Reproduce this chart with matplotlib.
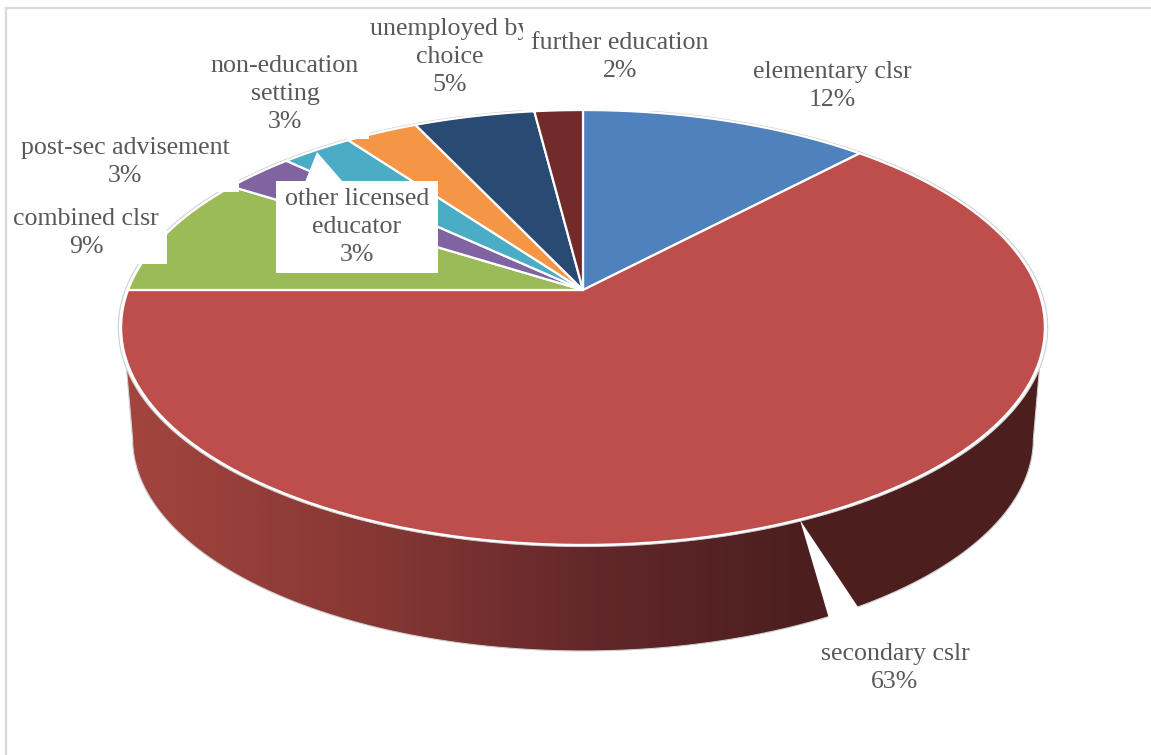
import numpy as np
import matplotlib
matplotlib.use("Agg")
import matplotlib.pyplot as plt
from matplotlib.patches import Polygon, Rectangle
from matplotlib.colors import LinearSegmentedColormap

categories = ["elementary clsr", "secondary cslr", "combined clsr", "post-sec advisement",
              "other licensed\neducator", "non-education\nsetting", "unemployed by\nchoice",
              "further education"]
values = [12, 63, 9, 3, 3, 3, 5, 2]
colors = ["#4F81BD", "#BE4E4B", "#9BBB59", "#8064A2", "#4BACC6", "#F59646", "#294A73", "#732A2A"]

# label centres in pixels, same order as categories
label_x = [832, 895, 86, 125, 357, 285, 450, 620]
label_y = [86, 668, 233, 162, 227, 94, 57, 57]
label_zorder = [9, 9, 9, 9, 9, 9, 5, 9]

# white boxes the labels sit on (left, top, right, bottom)
label_boxes = [(8, 205, 167.5, 264), (10, 130, 239, 192), (205, 50, 369, 139),
               (370, 15, 474, 116), (523, 15, 716, 111)]

# perspective disc
CX, CY = 583, 290
A, B, K = 455, 211, 0.1724
# lower edge of the wall
SCALE2, CY2 = 0.975, 402.4


def project(theta, scale=1.0, cy=CY):
    # theta is clockwise from 12 o'clock, in radians
    u = np.sin(theta)
    v = -np.cos(theta)
    w = 1 - K * v
    return CX + scale * A * u / w, cy + scale * B * v / w


fig = plt.figure(figsize=(11.51, 7.55), dpi=100)
ax = fig.add_axes([0, 0, 1, 1])
plt.rcParams["font.family"] = "Liberation Serif"

# chart area border
ax.plot([6, 6], [8, 755], color="#D9D9D9", lw=1.6, zorder=1)
ax.plot([6, 1151], [8, 8], color="#D9D9D9", lw=1.6, zorder=1)

# side wall, front half only
th_right = np.pi - np.arccos(0.3037)
th_low = np.pi - np.arccos(K)
top_t = np.linspace(th_right, 2 * np.pi - th_right, 300)
low_t = np.linspace(2 * np.pi - th_low, th_low, 300)
tx, ty = project(top_t)
lx, ly = project(low_t, SCALE2, CY2)
wall_pts = np.column_stack([np.r_[tx, lx], np.r_[ty, ly]])

wall_cmap = LinearSegmentedColormap.from_list(
    "wall", [(0, "#A4453F"), (0.4, "#843633"), (0.7, "#62272A"), (1, "#4C1F1E")])
grad = np.linspace(0, 1, 512).reshape(1, -1)
im = ax.imshow(grad, extent=[122, 800, 700, 300], cmap=wall_cmap, aspect="auto", zorder=2)
ax.imshow(np.ones((1, 2)), extent=[800, 1060, 700, 300], cmap=wall_cmap, vmin=0, vmax=1,
          aspect="auto", zorder=2).set_clip_path(Polygon(wall_pts, transform=ax.transData))
im.set_clip_path(Polygon(wall_pts, transform=ax.transData))
ax.add_patch(Polygon(wall_pts, closed=True, fc="none", ec="#CFCFCF", lw=0.8, zorder=2.5))

# gap in the wall
ax.add_patch(Polygon([(800, 520), (830, 622), (860, 610), (856, 604)], fc="white", ec="none", zorder=3))

# top face
rx, ry = project(np.linspace(0, 2 * np.pi, 500), 1.006)
ax.add_patch(Polygon(np.column_stack([rx, ry]), fc="white", ec="#CFCFCF", lw=0.8, zorder=3.5))

edges = np.cumsum([0] + values) / sum(values) * 2 * np.pi
for i, c in enumerate(colors):
    t = np.linspace(edges[i], edges[i + 1], 120)
    x, y = project(t)
    pts = np.column_stack([np.r_[CX, x], np.r_[CY, y]])
    ax.add_patch(Polygon(pts, closed=True, fc=c, ec="white", lw=1.6, joinstyle="round", zorder=4))

for left, top, right, bottom in label_boxes:
    ax.add_patch(Rectangle((left, top), right - left, bottom - top, fc="white", ec="none",
                           zorder=4.5 if right < 500 else 6))

# callout of the label placed over the pie
ax.add_patch(Polygon([(317, 152), (305, 182), (343, 182)], fc="white", ec="none", zorder=7))
ax.add_patch(Rectangle((276, 181), 162, 92, fc="white", ec="none", zorder=7))

for name, val, x, y, z in zip(categories, values, label_x, label_y, label_zorder):
    ax.text(x, y, f"{name}\n{val}%", ha="center", va="center", color="#595959", fontsize=18.6,
            linespacing=1.36, family="Liberation Serif", zorder=z + 1 if z == 9 else z)

ax.set_xlim(0, 1151)
ax.set_ylim(755, 0)
ax.axis("off")
fig.savefig("out.png", dpi=100)
